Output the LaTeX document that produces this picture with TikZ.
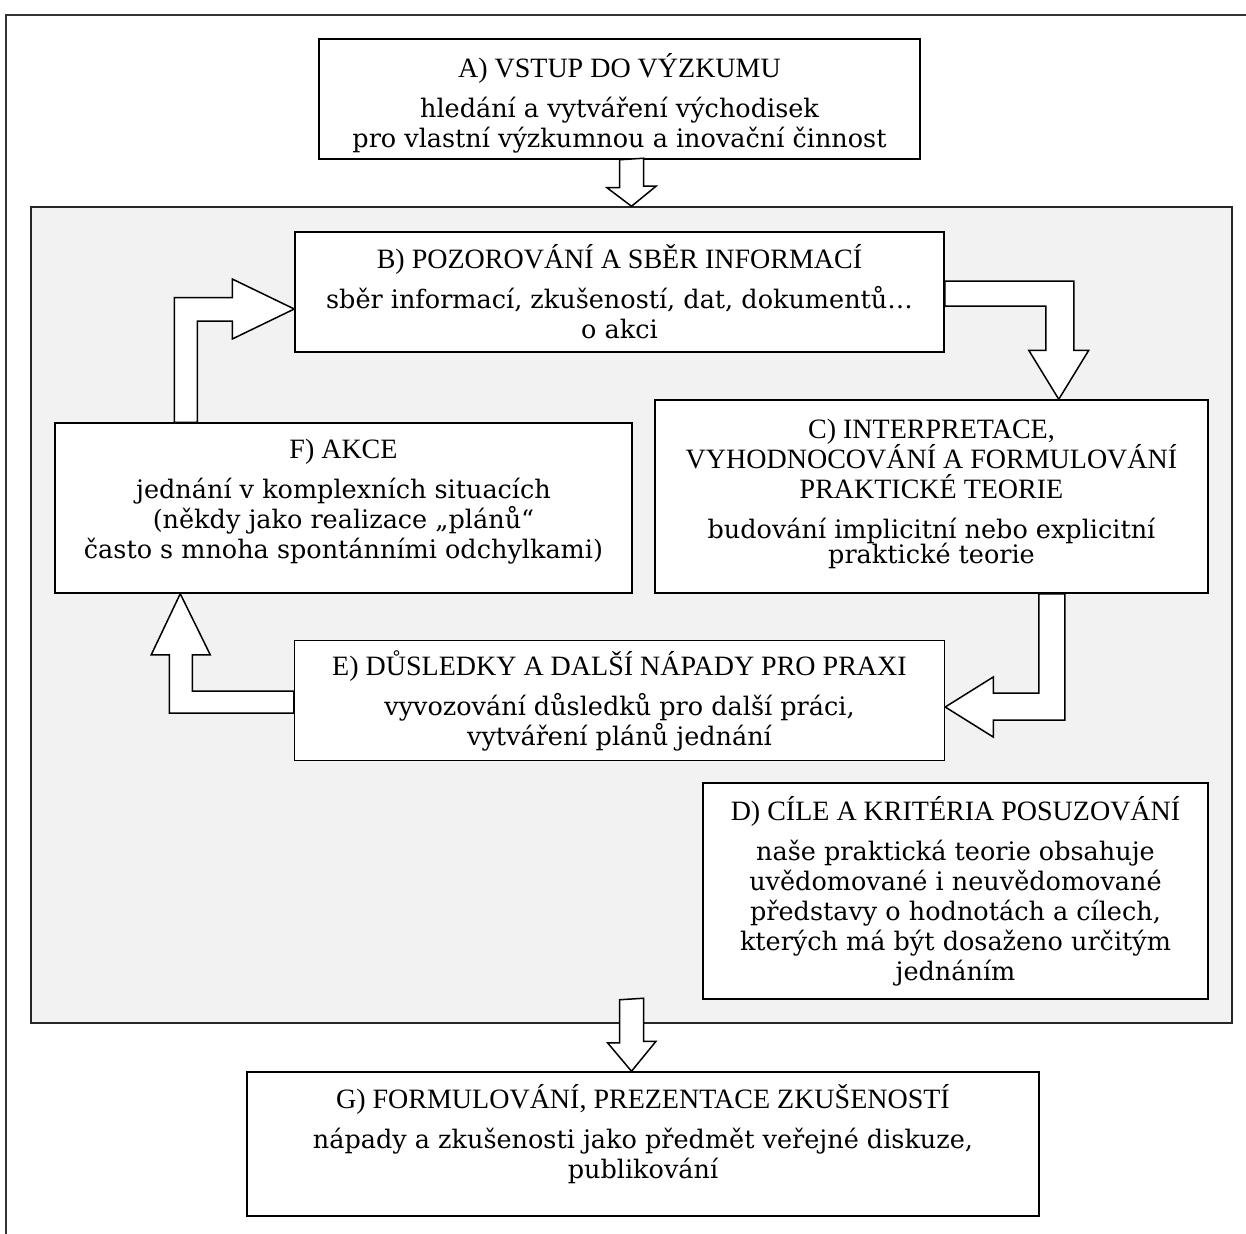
\documentclass[tikz,border=0pt]{standalone}
\usepackage{fontspec}
\setmainfont{DejaVu Serif}
\newfontfamily\headfont{Liberation Serif}
\usetikzlibrary{calc,positioning}
\definecolor{panelgray}{HTML}{F2F2F2}
\newcommand{\boxhead}[1]{{\headfont\fontsize{28}{30}\selectfont #1}}
\tikzset{
    %outer frame and grey panel
    frame/.style={draw=black!80, line width=1.3pt},
    panel/.style={
           rectangle,
           draw=black!85, line width=1.5pt,
           fill=panelgray,
           inner sep=0pt},
    %Define style for boxes
    stage/.style={
           rectangle,
           draw=black, line width=1.5pt,
           fill=white,
           inner sep=0pt},
    stagetext/.style={
           align=center,
           inner sep=0pt,
           font=\fontsize{25.5}{30}\selectfont},
    % Define block arrow style
    blk/.style={
           draw=black, line width=1.5pt,
           fill=white,
           line join=miter}
}
\begin{document}
\begin{tikzpicture}[x=1pt,y=-1pt]
\useasboundingbox (0,0) rectangle (1246,1233);
\draw[frame] (6,1240) |- (1252,15);

 %panel and boxes
\node[panel, minimum width=1201pt, minimum height=816pt] (panel) at (631.5,615) {};
\node[stage, minimum width=601pt, minimum height=120pt] (bA) at (619.5,99) {};
\node[stage, minimum width=649pt, minimum height=120pt] (bB) at (619.5,292) {};
\node[stage, minimum width=553pt, minimum height=193pt] (bC) at (931.5,496.5) {};
\node[stage, minimum width=577pt, minimum height=170pt] (bF) at (343.5,508) {};
\node[stage, minimum width=650pt, minimum height=120pt, below=287pt of bB] (bE) {};
\node[stage, minimum width=505pt, minimum height=216pt] (bD) at (955.5,891) {};
\node[stage, minimum width=792pt, minimum height=144pt] (bG) at (643,1144) {};

 %texts
\node[stagetext] (tA) at ($(bA)+(0,4)$) {\boxhead{A) VSTUP DO VÝZKUMU}\\[10pt]
    hledání a vytváření východisek\\ pro vlastní výzkumnou a inovační činnost};
\node[stagetext] (tB) at (bB) {\boxhead{B) POZOROVÁNÍ A SBĚR INFORMACÍ}\\[10pt]
    sběr informací, zkušeností, dat, dokumentů…\\ o akci};
\node[stagetext] (tC) at ($(bC)+(0,-3)$) {\boxhead{C) INTERPRETACE,}\\ \boxhead{VYHODNOCOVÁNÍ A FORMULOVÁNÍ}\\
    \boxhead{PRAKTICKÉ TEORIE}\\[10pt] budování implicitní nebo explicitní\\[-5pt] praktické teorie};
\node[stagetext] (tF) at ($(bF)+(0,-6)$) {\boxhead{F) AKCE}\\[10pt] jednání v komplexních situacích\\
    (někdy jako realizace „plánů“\\ často s mnoha spontánními odchylkami)};
\node[stagetext] (tE) at (bE) {\boxhead{E) DŮSLEDKY A DALŠÍ NÁPADY PRO PRAXI}\\[10pt]
    vyvozování důsledků pro další práci,\\ vytváření plánů jednání};
\node[stagetext] (tD) at (bD) {\boxhead{D) CÍLE A KRITÉRIA POSUZOVÁNÍ}\\[10pt] naše praktická teorie obsahuje\\
    uvědomované i neuvědomované\\ představy o hodnotách a cílech,\\ kterých má být dosaženo určitým\\ jednáním};
\node[stagetext] (tG) at ($(bG)+(0,-10)$) {\boxhead{G) FORMULOVÁNÍ, PREZENTACE ZKUŠENOSTÍ}\\[10pt]
    nápady a zkušenosti jako předmět veřejné diskuze,\\ publikování};

 %block arrows
\draw[blk] ($(panel.north |- bA.south)+(-12,0)$) -- ++(0,28) -- ++(-12.5,0) -- (panel.north)
    -- ++(24.5,-20) -- ++(-12.5,0) -- ++(0,-28) -- cycle;
\draw[blk] ($(bF.north west)+(120,0)$) |- ($(bB.west)+(-62,5.5)$) -- ++(0,-18.5) -- ($(bB.west)+(0,17)$)
    -- ++(-62,30) -- ++(0,-18) -| ($(bF.north west)+(143,0)$) -- cycle;
\draw[blk] ($(bB.east)+(0,-11)$) -| ($(bC.north east)+(-135,-49)$) -- ++(15,0) -- ($(bC.north east)+(-150,0)$)
    -- ++(-30,-49) -- ++(17,0) |- ($(bB.east)+(0,14)$) -- cycle;
\draw[blk] ($(bC.south east)+(-170,0)$) |- ($(bE.east)+(48,-7.5)$) -- ++(0,-16) -- ($(bE.east)+(0,6.5)$)
    -- ++(48,30) -- ++(0,-17) -| ($(bC.south east)+(-144,0)$) -- cycle;
\draw[blk] ($(bE.west)+(0,-9.5)$) -| ($(bF.south west)+(138,61)$) -- ++(18,0) -- ($(bF.south west)+(126,0)$)
    -- ++(-29,61) -- ++(18,0) |- ($(bE.west)+(0,12.5)$) -- cycle;
\draw[blk] ($(panel.south |- bD.south)+(-12,0)$) -- ++(0,43) -- ++(-12,0) -- (panel.south |- bG.north)
    -- ++(24.5,-30) -- ++(-12.5,0) -- ++(0,-43) -- cycle;

\end{tikzpicture}
\end{document}
